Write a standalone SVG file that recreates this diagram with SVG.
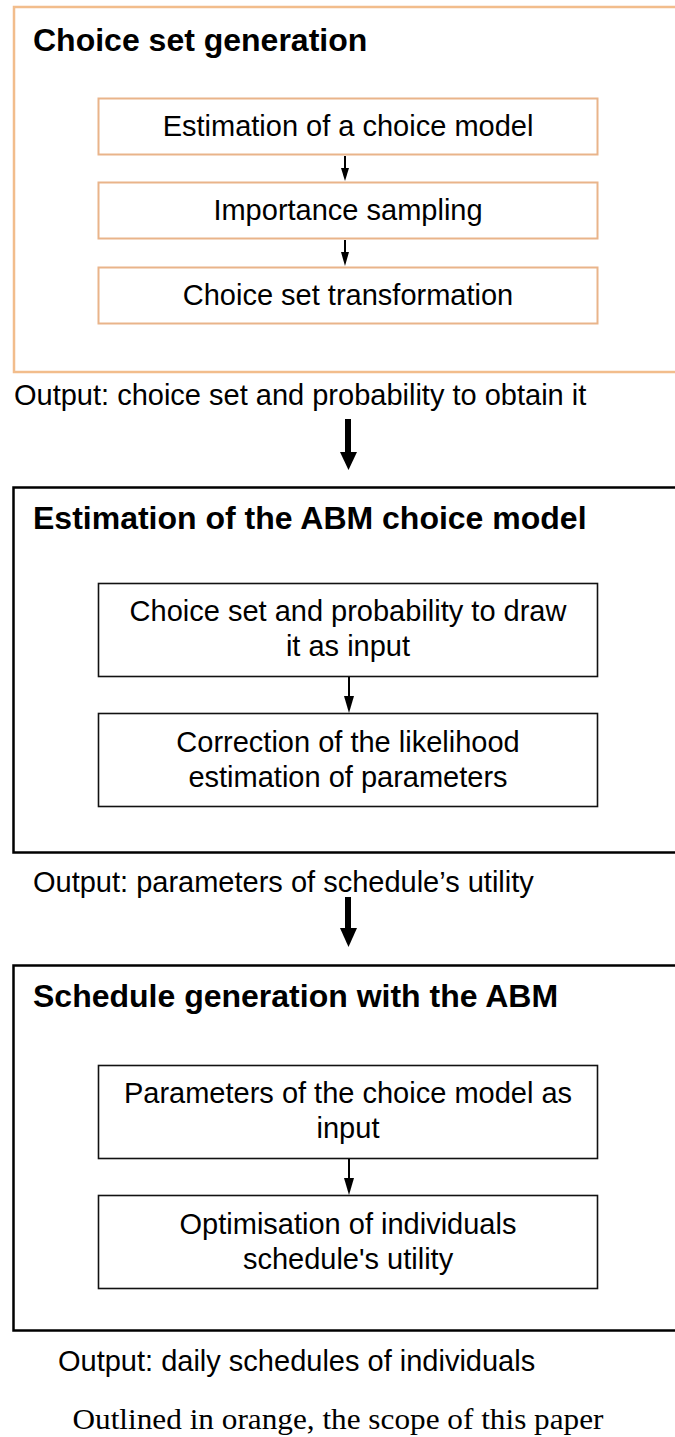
<svg xmlns="http://www.w3.org/2000/svg" width="675" height="1437" viewBox="0 0 675 1437">
<defs>
<style>
.t{font-family:"Liberation Sans",Arial,sans-serif;font-size:29px;fill:#000}
.b{font-family:"Liberation Sans",Arial,sans-serif;font-size:32px;font-weight:bold;fill:#000}
.c{text-anchor:middle}
.cap{font-family:"Liberation Serif","Times New Roman",serif;font-size:30px;fill:#000;text-anchor:middle}
.ob{fill:#fff;stroke:#f2bd8c;stroke-width:2.5}
.oi{fill:#fff;stroke:#e9b48a;stroke-width:2}
.kb{fill:#fff;stroke:#000;stroke-width:2.5}
.ki{fill:#fff;stroke:#111;stroke-width:1.6}
.ln{stroke:#000;stroke-width:2;fill:none}
.lnb{stroke:#000;stroke-width:6;fill:none}
</style>
</defs>
<g id="box-choice-set">
<rect class="ob" x="14" y="7" width="670" height="365"/>
<text class="b" x="33" y="51">Choice set generation</text>
</g>
<g id="node-estimation-choice-model">
<rect class="oi" x="98.5" y="98.5" width="499" height="56"/>
<text class="t c" x="348" y="136">Estimation of a choice model</text>
</g>
<g id="node-importance-sampling">
<rect class="oi" x="98.5" y="182.5" width="499" height="56"/>
<text class="t c" x="348" y="220">Importance sampling</text>
</g>
<g id="node-choice-set-transformation">
<rect class="oi" x="98.5" y="267.5" width="499" height="56"/>
<text class="t c" x="348" y="305">Choice set transformation</text>
</g>
<g id="label-output1">
<text class="t" x="14" y="405">Output: choice set and probability to obtain it</text>
</g>
<g id="box-abm-estimation">
<rect class="kb" x="13.5" y="487.5" width="670" height="365"/>
<text class="b" x="33" y="529">Estimation of the ABM choice model</text>
</g>
<g id="node-choice-set-input">
<rect class="ki" x="98.5" y="583.5" width="499" height="93"/>
<text class="t c" x="348" y="621">Choice set and probability to draw</text>
<text class="t c" x="348" y="656">it as input</text>
</g>
<g id="node-correction-likelihood">
<rect class="ki" x="98.5" y="713.5" width="499" height="93"/>
<text class="t c" x="348" y="752">Correction of the likelihood</text>
<text class="t c" x="348" y="787">estimation of parameters</text>
</g>
<g id="label-output2">
<text class="t" x="33" y="892">Output: parameters of schedule’s utility</text>
</g>
<g id="box-schedule-generation">
<rect class="kb" x="13.5" y="965.5" width="670" height="365"/>
<text class="b" x="33" y="1007">Schedule generation with the ABM</text>
</g>
<g id="node-parameters-input">
<rect class="ki" x="98.5" y="1065.5" width="499" height="93"/>
<text class="t c" x="348" y="1103">Parameters of the choice model as</text>
<text class="t c" x="348" y="1138">input</text>
</g>
<g id="node-optimisation">
<rect class="ki" x="98.5" y="1195.5" width="499" height="93"/>
<text class="t c" x="348" y="1234">Optimisation of individuals</text>
<text class="t c" x="348" y="1269">schedule's utility</text>
</g>
<g id="label-output3">
<text class="t" x="58" y="1371">Output: daily schedules of individuals</text>
</g>
<g id="caption">
<text class="cap" x="338" y="1429" textLength="531" lengthAdjust="spacingAndGlyphs">Outlined in orange, the scope of this paper</text>
</g>
<g id="connectors">
<line class="ln" x1="345" y1="156" x2="345" y2="170"/>
<path d="M341,168 L349,168 L345,181 Z"/>
<line class="ln" x1="345" y1="240" x2="345" y2="254"/>
<path d="M341,252 L349,252 L345,266 Z"/>
<line class="ln" x1="349" y1="677" x2="349" y2="698"/>
<path d="M344,696 L354,696 L349,713 Z"/>
<line class="ln" x1="349" y1="1159" x2="349" y2="1180"/>
<path d="M344,1178 L354,1178 L349,1195 Z"/>
<line class="lnb" x1="348" y1="419" x2="348" y2="454"/>
<path d="M340,452 L357,452 L348.5,470 Z"/>
<line class="lnb" x1="348" y1="897" x2="348" y2="930"/>
<path d="M340,928 L357,928 L348.5,947 Z"/>
</g>
</svg>
